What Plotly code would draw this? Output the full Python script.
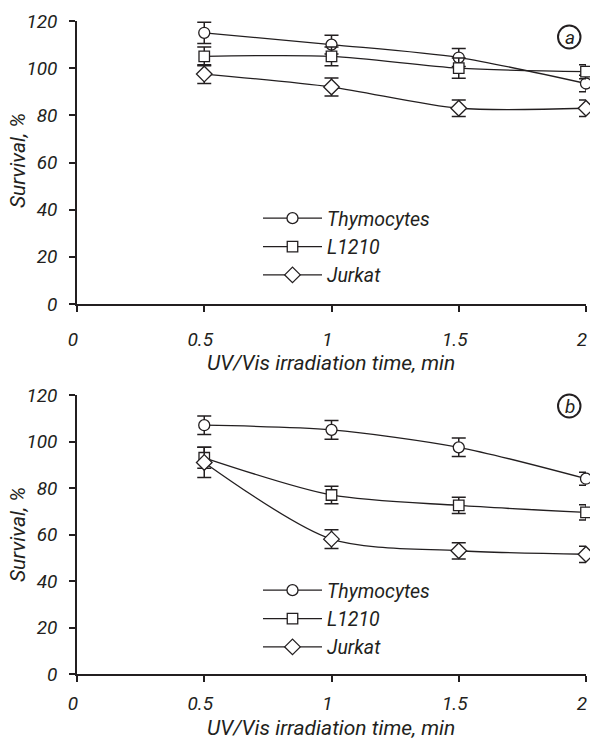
import plotly.graph_objects as go

# ---- data ----
times = [0.5, 1, 1.5, 2]
series_names = ["Thymocytes", "L1210", "Jurkat"]

a_thymocytes = [115, 110, 104.5, 93.5]
a_thymocytes_err = [4.5, 4, 3.8, 3.5]
a_l1210 = [105, 105, 100, 98.5]
a_l1210_err = [4, 4, 4.3, 3]
a_jurkat = [97.5, 92, 83, 83]
a_jurkat_err = [4, 3.8, 3.5, 3.5]

b_thymocytes = [107, 105, 97.5, 84]
b_thymocytes_err = [4, 4, 4, 2.8]
b_l1210 = [93, 77, 72.5, 69.5]
b_l1210_err = [4.5, 3.8, 3.5, 3.3]
b_jurkat = [91, 58, 53, 51.5]
b_jurkat_err = [6.5, 4, 3.5, 3.5]

x_ticks = [0, 0.5, 1, 1.5, 2]
x_tick_labels = ["0", "0.5", "1", "1.5", "2"]
y_ticks = [0, 20, 40, 60, 80, 100, 120]
x_title = "UV/Vis irradiation time, min"
y_title = "Survival, %"

# ---- layout geometry (pixels) ----
W, H = 590, 741
ML, MR, MT, MB = 77, 4, 21, 67
PW, PH = W - ML - MR, H - MT - MB


def px(x):
    return (x - ML) / PW


def py(y):
    return (H - MB - y) / PH


FONT = "Roboto, Liberation Sans, sans-serif"
INK = "#231f20"
symbols = ["circle", "square", "diamond"]
sizes = [11, 10.5, 12]

fig = go.Figure()

panels = [
    ("x", "y", "legend", [a_thymocytes, a_l1210, a_jurkat],
     [a_thymocytes_err, a_l1210_err, a_jurkat_err]),
    ("x2", "y2", "legend2", [b_thymocytes, b_l1210, b_jurkat],
     [b_thymocytes_err, b_l1210_err, b_jurkat_err]),
]

for xa, ya, leg, vals, errs in panels:
    for name, v, e, sym, sz in zip(series_names, vals, errs, symbols, sizes):
        fig.add_trace(go.Scatter(
            x=times, y=v, name=name, xaxis=xa, yaxis=ya, legend=leg,
            mode="lines+markers",
            line=dict(color=INK, width=1.3, shape="spline", smoothing=0.8),
            marker=dict(symbol=sym, size=sz, color="white",
                        line=dict(color=INK, width=1.3)),
            error_y=dict(type="data", array=e, visible=True, color=INK,
                         thickness=1.5, width=7),
            cliponaxis=False,
        ))

axis_font = dict(family=FONT, size=19, color=INK, style="italic")
title_font = dict(family=FONT, size=21, color=INK, style="italic")
legend_font = dict(family=FONT, size=19.5, color=INK, style="italic")

xcommon = dict(range=[0, 2], tickvals=x_ticks, ticktext=x_tick_labels,
               showline=True, linecolor=INK, linewidth=1.5,
               ticks="outside", ticklen=6, tickwidth=1.5, tickcolor=INK,
               tickfont=axis_font, showgrid=False, zeroline=False,
               ticklabelshift=-4,
               automargin=False, ticklabeloverflow="allow")
ycommon = dict(range=[0, 120], tickvals=y_ticks,
               showline=True, linecolor=INK, linewidth=1.5,
               ticks="outside", ticklen=6, tickwidth=1.5, tickcolor=INK,
               tickfont=axis_font, showgrid=False, zeroline=False,
               ticklabelstandoff=8, automargin=False, ticklabeloverflow="allow")

top_dom = [py(304), 1]
bot_dom = [0, py(395)]

fig.update_layout(
    width=W, height=H,
    margin=dict(l=ML, r=MR, t=MT, b=MB),
    paper_bgcolor="white", plot_bgcolor="white",
    font=dict(family=FONT, color=INK),
    showlegend=True,
    xaxis=dict(**xcommon, anchor="y", ticklabelstandoff=11),
    yaxis=dict(**ycommon, domain=top_dom, anchor="x"),
    xaxis2=dict(**xcommon, anchor="y2", ticklabelstandoff=5),
    yaxis2=dict(**ycommon, domain=bot_dom, anchor="x2"),
    legend=dict(x=px(258), y=py(199), xanchor="left", yanchor="top",
                bgcolor="rgba(0,0,0,0)", font=legend_font,
                itemwidth=59, tracegroupgap=0),
    legend2=dict(x=px(258), y=py(571), xanchor="left", yanchor="top",
                 bgcolor="rgba(0,0,0,0)", font=legend_font,
                 itemwidth=59, tracegroupgap=0),
)

# axis titles as annotations
for cy in [161, 535]:
    fig.add_annotation(text=y_title, xref="paper", yref="paper",
                       x=px(18), y=py(cy), showarrow=False, textangle=-90,
                       xanchor="center", yanchor="middle", font=title_font)
fig.add_annotation(text=x_title, xref="paper", yref="paper",
                   x=px(331), y=py(363), showarrow=False,
                   xanchor="center", yanchor="middle", font=title_font)
fig.add_annotation(text=x_title, xref="paper", yref="paper",
                   x=px(331), y=py(741), showarrow=False, borderpad=0,
                   xanchor="center", yanchor="bottom", font=title_font)

# circled panel letters
for letter, cy in [("a", 37), ("b", 406)]:
    fig.add_shape(type="circle", xref="paper", yref="paper",
                  x0=px(558), x1=px(580.5), y0=py(cy + 11.5), y1=py(cy - 11.5),
                  line=dict(color=INK, width=2))
    fig.add_annotation(text=letter, xref="paper", yref="paper",
                       x=px(569.5), y=py(cy + 0.5), showarrow=False,
                       xanchor="center", yanchor="middle",
                       font=dict(family=FONT, size=19, color=INK, style="italic"))

fig.write_html("out.html",
               config={"displayModeBar": False},
               post_script="document.body.style.margin='0';document.body.style.padding='0';")
